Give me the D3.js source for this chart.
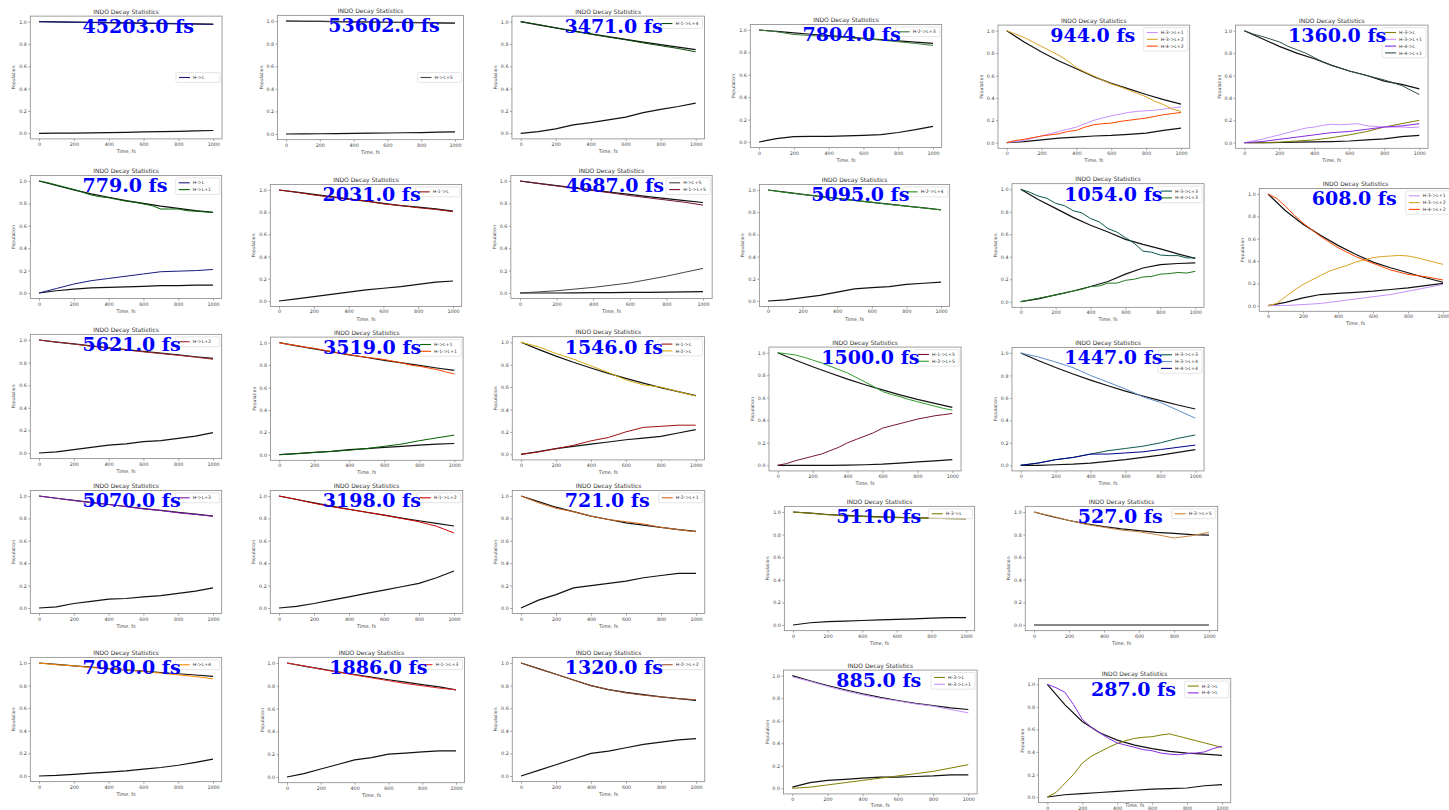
<!DOCTYPE html>
<html><head><meta charset="utf-8">
<script src="https://cdn.jsdelivr.net/npm/d3@7"></script>
<style>body{margin:0;background:#fff}svg{display:block}</style>
</head><body><svg id="c" width="1449" height="810"></svg>
<script>
// ---------------- DATA ----------------
const xTicks = [0,200,400,600,800,1000];
const yTicks = [0.0,0.2,0.4,0.6,0.8,1.0];
const titleText = "INDO Decay Statistics";
const tauLabels = ["45203.0 fs","53602.0 fs","3471.0 fs","7804.0 fs","944.0 fs","1360.0 fs",
 "779.0 fs","2031.0 fs","4687.0 fs","5095.0 fs","1054.0 fs","608.0 fs",
 "5621.0 fs","3519.0 fs","1546.0 fs","1500.0 fs","1447.0 fs",
 "5070.0 fs","3198.0 fs","721.0 fs","511.0 fs","527.0 fs",
 "7980.0 fs","1886.0 fs","1320.0 fs","885.0 fs","287.0 fs"];

// values sampled every 100 fs (11 pts) or every 50 fs (21 pts)
const p01_fit=[1,.998,.996,.994,.991,.989,.987,.985,.983,.980,.978];
const p01_a=[1,.998,.995,.993,.991,.988,.985,.983,.981,.978,.975];
const p01_g=[0,.001,.002,.004,.006,.009,.012,.015,.018,.022,.025];
const p02_fit=[1,.998,.996,.994,.993,.991,.989,.987,.985,.983,.981];
const p02_a=[1,.998,.997,.995,.993,.991,.989,.986,.985,.983,.980];
const p02_g=[0,.001,.002,.003,.005,.007,.009,.011,.013,.016,.019];
const p03_fit=[1,.972,.944,.917,.891,.866,.841,.817,.794,.772,.75];
const p03_a=[1,.975,.945,.915,.888,.862,.838,.81,.785,.76,.73];
const p03_g=[0,.015,.04,.075,.095,.12,.145,.185,.215,.24,.27];
const p04_fit=[1,.987,.975,.962,.95,.938,.926,.914,.903,.891,.88];
const p04_a=[1,.985,.96,.95,.942,.932,.922,.91,.895,.88,.862];
const p04_g=[0,.03,.048,.05,.05,.055,.06,.065,.085,.11,.14];
const p05_fit=[1,.90,.81,.73,.66,.59,.53,.48,.43,.385,.345];
const p05_a=[0,.01,.02,.04,.06,.08,.10,.12,.14,.17,.20,.22,.24,.255,.27,.28,.285,.29,.30,.31,.32];
const p05_b=[1,.97,.94,.90,.86,.82,.78,.73,.67,.63,.595,.56,.525,.50,.47,.44,.41,.37,.34,.30,.28];
const p05_c=[0,.02,.03,.045,.06,.07,.08,.10,.11,.14,.16,.17,.175,.19,.20,.21,.22,.235,.25,.26,.27];
const p05_g=[0,.01,.025,.04,.05,.06,.065,.075,.085,.11,.13];
const p06_fit=[1,.93,.86,.80,.75,.69,.64,.60,.55,.52,.48];
const p06_a=[0,0,.005,.015,.025,.045,.07,.10,.14,.17,.20];
const p06_b=[0,.015,.03,.05,.07,.09,.11,.13,.14,.155,.165,.16,.165,.17,.15,.145,.14,.14,.14,.135,.14];
const p06_c=[0,.01,.03,.05,.07,.09,.10,.12,.14,.15,.17];
const p06_d=[1,.97,.95,.925,.90,.86,.83,.80,.76,.72,.69,.665,.64,.62,.60,.58,.56,.535,.51,.47,.43];
const p06_g=[0,0,.002,.005,.008,.01,.015,.025,.035,.055,.065];
const p07_fit=[1,.96,.92,.885,.855,.825,.80,.775,.755,.735,.72];
const p07_a=[0,.04,.08,.11,.13,.15,.17,.19,.195,.20,.21];
const p07_b=[1,.985,.965,.945,.925,.90,.875,.86,.85,.835,.82,.81,.795,.78,.75,.75,.75,.735,.73,.725,.72];
const p07_g=[0,.02,.035,.045,.05,.055,.06,.065,.065,.07,.07];
const p08_fit=[1,.98,.96,.94,.92,.90,.88,.86,.845,.83,.81];
const p08_a=[1,.98,.955,.935,.915,.90,.875,.86,.84,.825,.805];
const p08_g=[0,.02,.04,.06,.08,.10,.115,.13,.15,.17,.18];
const p09_fit=[1,.979,.958,.938,.918,.899,.88,.861,.843,.825,.808];
const p09_a=[0,.01,.02,.035,.05,.07,.09,.12,.15,.185,.22];
const p09_b=[1,.978,.956,.935,.914,.893,.87,.85,.83,.81,.785];
const p09_g=[0,0,0,.002,.003,.004,.005,.006,.008,.01,.012];
const p10_fit=[1,.98,.961,.943,.924,.906,.889,.872,.855,.839,.822];
const p10_a=[1,.978,.96,.94,.925,.905,.89,.87,.855,.838,.82];
const p10_g=[0,.01,.03,.05,.08,.11,.12,.13,.15,.16,.17];
const p11_fit=[1,.91,.83,.75,.68,.62,.555,.51,.47,.425,.385];
const p11_a=[1,.975,.94,.92,.875,.855,.81,.79,.74,.71,.65,.62,.57,.52,.45,.44,.415,.41,.41,.39,.39];
const p11_b=[0,.015,.03,.045,.06,.075,.095,.11,.135,.14,.165,.165,.19,.20,.22,.225,.245,.25,.26,.255,.27];
const p11_g=[0,.025,.06,.095,.135,.18,.245,.30,.33,.34,.345];
const p12_fit=[1,.85,.73,.63,.54,.46,.39,.34,.295,.25,.21];
const p12_a=[0,.002,.01,.02,.04,.06,.08,.10,.13,.16,.19];
const p12_b=[0,.02,.08,.14,.19,.23,.27,.31,.335,.36,.39,.41,.43,.44,.445,.45,.445,.43,.41,.39,.37];
const p12_c=[1,.96,.89,.81,.74,.68,.62,.57,.52,.48,.44,.41,.38,.35,.32,.30,.28,.27,.26,.245,.23];
const p12_g=[0,.03,.07,.10,.11,.12,.13,.145,.16,.18,.20];
const p13_fit=[1,.982,.965,.948,.931,.915,.899,.883,.868,.852,.837];
const p13_a=[1,.982,.964,.945,.928,.912,.895,.88,.865,.848,.83];
const p13_g=[0,.01,.03,.05,.07,.08,.10,.11,.13,.15,.18];
const p14_fit=[1,.972,.945,.918,.892,.868,.843,.82,.797,.774,.753];
const p14_a=[0,.01,.02,.03,.04,.055,.075,.095,.125,.15,.175];
const p14_b=[1,.985,.975,.96,.95,.935,.92,.905,.895,.88,.87,.86,.85,.835,.82,.80,.79,.775,.76,.74,.72];
const p14_g=[0,.01,.02,.03,.045,.055,.065,.075,.085,.095,.10];
const p15_fit=[1,.937,.877,.822,.771,.723,.678,.636,.596,.559,.524];
const p15_a=[0,.02,.05,.08,.12,.15,.20,.24,.25,.26,.26];
const p15_b=[1,.96,.90,.85,.79,.73,.665,.62,.60,.56,.52];
const p15_g=[0,.025,.05,.07,.09,.11,.13,.145,.16,.19,.22];
const p16_fit=[1,.935,.875,.82,.765,.715,.67,.625,.585,.55,.515];
const p16_a=[0,.015,.04,.06,.08,.10,.13,.16,.20,.23,.26,.29,.33,.35,.37,.39,.41,.425,.44,.45,.46];
const p16_b=[1,.99,.98,.96,.935,.91,.88,.85,.82,.78,.74,.70,.655,.63,.61,.585,.565,.545,.525,.505,.49];
const p16_g=[0,0,0,0,.002,.005,.01,.02,.03,.04,.05];
const p17_fit=[1,.933,.871,.813,.759,.708,.661,.617,.576,.537,.501];
const p17_a=[0,.02,.05,.07,.10,.13,.15,.17,.20,.24,.27];
const p17_b=[1,.965,.92,.87,.80,.74,.68,.61,.56,.49,.42];
const p17_c=[0,.02,.05,.07,.10,.10,.11,.12,.14,.16,.18];
const p17_g=[0,0,.005,.01,.02,.035,.05,.07,.09,.115,.14];
const p18_fit=[1,.98,.961,.943,.924,.906,.888,.871,.854,.838,.821];
const p18_a=[1,.98,.96,.94,.925,.905,.885,.87,.85,.835,.82];
const p18_g=[0,.01,.04,.06,.08,.085,.10,.11,.13,.15,.18];
const p19_fit=[1,.969,.939,.91,.882,.855,.829,.803,.779,.755,.732];
const p19_a=[1,.97,.935,.905,.88,.855,.83,.80,.77,.73,.67];
const p19_g=[0,.015,.04,.07,.10,.13,.16,.19,.22,.27,.33];
const p20_fit=[1,.95,.90,.86,.82,.79,.76,.74,.72,.70,.685];
const p20_a=[1,.94,.89,.86,.82,.79,.77,.75,.72,.70,.68];
const p20_g=[0,.07,.12,.18,.20,.22,.24,.27,.29,.31,.31];
const p21_fit=[1,.99,.978,.97,.963,.957,.953,.949,.946,.943,.941];
const p21_a=[1,.99,.975,.965,.96,.955,.95,.948,.945,.94,.94];
const p21_g=[0,.02,.03,.035,.04,.045,.05,.055,.06,.065,.065];
const p22_fit=[1,.96,.925,.895,.87,.85,.835,.82,.81,.80,.795];
const p22_a=[1,.965,.925,.89,.865,.84,.825,.80,.77,.79,.82];
const p22_g=[0,0,0,0,0,0,0,0,0,0,0];
const p23_fit=[1,.988,.975,.963,.951,.939,.928,.916,.905,.894,.882];
const p23_a=[1,.985,.975,.96,.95,.94,.925,.91,.895,.88,.86];
const p23_g=[0,.005,.015,.025,.035,.045,.06,.075,.095,.12,.15];
const p24_fit=[1,.973,.948,.923,.899,.876,.853,.832,.811,.791,.765];
const p24_a=[1,.975,.945,.92,.895,.87,.845,.82,.80,.78,.765];
const p24_g=[0,.03,.07,.11,.15,.17,.20,.21,.22,.23,.23];
const p25_fit=[1,.95,.90,.85,.80,.765,.74,.72,.70,.685,.67];
const p25_a=[1,.95,.90,.85,.80,.765,.735,.715,.70,.685,.675];
const p25_g=[0,.05,.10,.15,.20,.22,.25,.28,.30,.32,.33];
const p26_fit=[1,.955,.913,.875,.84,.808,.78,.755,.735,.715,.70];
const p26_a=[0,.01,.03,.05,.07,.09,.11,.13,.15,.18,.21];
const p26_b=[.99,.95,.905,.865,.83,.80,.775,.75,.73,.70,.67];
const p26_g=[.01,.05,.07,.08,.09,.10,.10,.105,.11,.12,.12];
const p27_fit=[1,.82,.67,.57,.505,.46,.43,.405,.39,.38,.37];
const p27_a=[0,.04,.12,.20,.30,.36,.40,.44,.475,.50,.52,.53,.535,.55,.56,.54,.52,.50,.48,.46,.44];
const p27_b=[1,.97,.93,.82,.69,.62,.57,.52,.48,.46,.44,.42,.41,.39,.38,.375,.385,.39,.40,.43,.45];
const p27_g=[0,.02,.03,.04,.05,.06,.07,.075,.08,.10,.11];

// state names shown in each legend, with the series drawn for them
const panelStates = [
 [["H->L",p01_a]], [["H->L+5",p02_a]], [["H-1->L+4",p03_a]], [["H-2->L+3",p04_a]],
 [["H-3->L+1",p05_a],["H-3->L+2",p05_b],["H-4->L+2",p05_c]],
 [["H-3->L",p06_a],["H-3->L+1",p06_b],["H-4->L",p06_c],["H-4->L+1",p06_d]],
 [["H->L",p07_a],["H->L+1",p07_b]], [["H-1->L",p08_a]],
 [["H->L+5",p09_a],["H-1->L+5",p09_b]], [["H-2->L+4",p10_a]],
 [["H-3->L+3",p11_a],["H-4->L+3",p11_b]],
 [["H-3->L+1",p12_a],["H-3->L+2",p12_b],["H-4->L+2",p12_c]],
 [["H->L+2",p13_a]], [["H->L+1",p14_a],["H-1->L+1",p14_b]],
 [["H-1->L",p15_a],["H-2->L",p15_b]], [["H-1->L+5",p16_a],["H-2->L+5",p16_b]],
 [["H-3->L+3",p17_a],["H-3->L+4",p17_b],["H-4->L+4",p17_c]],
 [["H->L+3",p18_a]], [["H-1->L+2",p19_a]], [["H-2->L+1",p20_a]], [["H-3->L",p21_a]],
 [["H-3->L+5",p22_a]], [["H->L+4",p23_a]], [["H-1->L+3",p24_a]], [["H-2->L+2",p25_a]],
 [["H-3->L",p26_a],["H-3->L+1",p26_b]], [["H-3->L",p27_a],["H-4->L",p27_b]]
];
const panelFits = [p01_fit,p02_fit,p03_fit,p04_fit,p05_fit,p06_fit,p07_fit,p08_fit,p09_fit,p10_fit,
 p11_fit,p12_fit,p13_fit,p14_fit,p15_fit,p16_fit,p17_fit,p18_fit,p19_fit,p20_fit,p21_fit,p22_fit,
 p23_fit,p24_fit,p25_fit,p26_fit,p27_fit];
const panelGround = [p01_g,p02_g,p03_g,p04_g,p05_g,p06_g,p07_g,p08_g,p09_g,p10_g,p11_g,p12_g,
 p13_g,p14_g,p15_g,p16_g,p17_g,p18_g,p19_g,p20_g,p21_g,p22_g,p23_g,p24_g,p25_g,p26_g,p27_g];

// ---------------- STYLE / LAYOUT ----------------
const stateColors = {
 "H->L":"#1a1a80","H->L+1":"#006400","H->L+2":"#a0282a","H->L+3":"#8a1ab0","H->L+4":"#ff8c00",
 "H->L+5":"#444444","H-1->L":"#a01010","H-1->L+1":"#ff4500","H-1->L+2":"#d00000","H-1->L+3":"#e02828",
 "H-1->L+4":"#0a4a0a","H-1->L+5":"#7a1530","H-2->L":"#d4aa10","H-2->L+1":"#d2691e","H-2->L+2":"#a0522d",
 "H-2->L+3":"#3a7a3a","H-2->L+4":"#228b22","H-2->L+5":"#2ca02c","H-3->L":"#808000","H-3->L+1":"#c890ff",
 "H-3->L+2":"#daa520","H-3->L+3":"#0b5a50","H-3->L+4":"#5b8fc7","H-3->L+5":"#cd853f",
 "H-4->L":"#8a2be2","H-4->L+1":"#2f4f4f","H-4->L+2":"#ff4500","H-4->L+3":"#1e7b1e","H-4->L+4":"#00008b"
};
// pixel calibration per panel: [x of t=0, x of t=1000, y of pop=1, y of pop=0]
const frames = [
 [39,213.3,21.7,133.3],[286,455,21,134],[520.7,695.7,21.7,133.3],[759,933,30,142],
 [1006.7,1181,30.7,142.7],[1244.3,1419.3,30.7,142.7],
 [39,213,181,293],[279,453,190,301],[520,703,181,293],[768,941,190,301],
 [1020.7,1195.3,189.3,301.7],[1268,1443,194,305.7],
 [39,213,340,453],[279.3,454.3,342.7,454.7],[521,695.7,342.3,454.3],[777.7,952.3,352.7,465.3],
 [1020.7,1195.3,353,465.3],
 [39,213,496,608],[279,454,496,608],[521,696,496,608],[793,966,512,625],[1034,1209,512,625],
 [39,213,663,776],[287,456,663,777],[521,696,663,776],[792.3,968.3,675.7,788.3],[1047.3,1222,684.3,797]
];
const legendCenter = [0,1]; // panels whose legend sits at center right

// ---------------- DRAW ----------------
const svg = d3.select("#c");
svg.append("rect").attr("width",1449).attr("height",810).attr("fill","#fff");

frames.forEach((f,i)=>{
  const x = d3.scaleLinear().domain([0,1000]).range([f[0],f[1]]);
  const y = d3.scaleLinear().domain([0,1]).range([f[3],f[2]]);
  const L = x(-50), R = x(1050), T = y(1.05), B = y(-0.05);
  const g = svg.append("g");
  const xa = d3.axisBottom(x).tickValues(xTicks).tickSize(2).tickPadding(1.5).tickFormat(d3.format("d"));
  const ya = d3.axisLeft(y).tickValues(yTicks).tickSize(2).tickPadding(1.5).tickFormat(d3.format(".1f"));
  const gx = g.append("g").attr("transform",`translate(0,${B})`).call(xa);
  const gy = g.append("g").attr("transform",`translate(${L},0)`).call(ya);
  [gx,gy].forEach(a=>{
    a.select(".domain").remove();
    a.selectAll(".tick line").attr("stroke","#666").attr("stroke-width",0.6);
    a.selectAll(".tick text").attr("fill","#444").style("font-family","DejaVu Sans").style("font-size","4.8px");
  });
  const mk = (vals)=> d3.line().x((d,k)=>x(k*1000/(vals.length-1))).y(d=>y(d))(vals);
  g.append("path").attr("d",mk(panelFits[i])).attr("fill","none").attr("stroke","#111").attr("stroke-width",1.2);
  g.append("path").attr("d",mk(panelGround[i])).attr("fill","none").attr("stroke","#111").attr("stroke-width",1.2);
  panelStates[i].forEach(([name,vals])=>{
    g.append("path").attr("d",mk(vals)).attr("fill","none")
      .attr("stroke",stateColors[name]).attr("stroke-width",1);
  });
  g.append("rect").attr("x",L).attr("y",T).attr("width",R-L).attr("height",B-T)
    .attr("fill","none").attr("stroke","#888").attr("stroke-width",0.8);
  g.append("text").attr("x",(L+R)/2).attr("y",T-2.5).attr("text-anchor","middle")
    .style("font-family","DejaVu Sans").style("font-size","6px").attr("fill","#333").text(titleText);
  g.append("text").attr("x",(L+R)/2).attr("y",Math.min(B+14,807)).attr("text-anchor","middle")
    .style("font-family","DejaVu Sans").style("font-size","4.8px").attr("fill","#444").text("Time, fs");
  g.append("text").attr("transform",`translate(${L-15},${(T+B)/2}) rotate(-90)`).attr("text-anchor","middle")
    .style("font-family","DejaVu Sans").style("font-size","4.6px").attr("fill","#444").text("Population");
  const names = panelStates[i].map(d=>d[0]);
  const rowH = 6.8, lw = 44;
  const lh = names.length*rowH + 3;
  const lx = R - lw - 2;
  const ly = legendCenter.includes(i) ? (T+B)/2 - lh/2 : T + 2.5;
  const lg = g.append("g");
  lg.append("rect").attr("x",lx).attr("y",ly).attr("width",lw).attr("height",lh).attr("rx",1)
    .attr("fill","#fff").attr("fill-opacity",0.8).attr("stroke","#ccc").attr("stroke-width",0.5);
  names.forEach((n,k)=>{
    const yy = ly + 1.5 + rowH*(k+0.5);
    lg.append("line").attr("x1",lx+3).attr("x2",lx+14).attr("y1",yy).attr("y2",yy)
      .attr("stroke",stateColors[n]).attr("stroke-width",1.1);
    lg.append("text").attr("x",lx+17).attr("y",yy+1.6).style("font-family","DejaVu Sans")
      .style("font-size","4.6px").attr("fill","#333").text(n);
  });
  g.append("text").attr("x",x(250)).attr("y",y(0.9))
    .style("font-family","DejaVu Serif").style("font-weight","bold").style("font-size","19px")
    .attr("fill","#0000ff").text(tauLabels[i]);
});
</script></body></html>
